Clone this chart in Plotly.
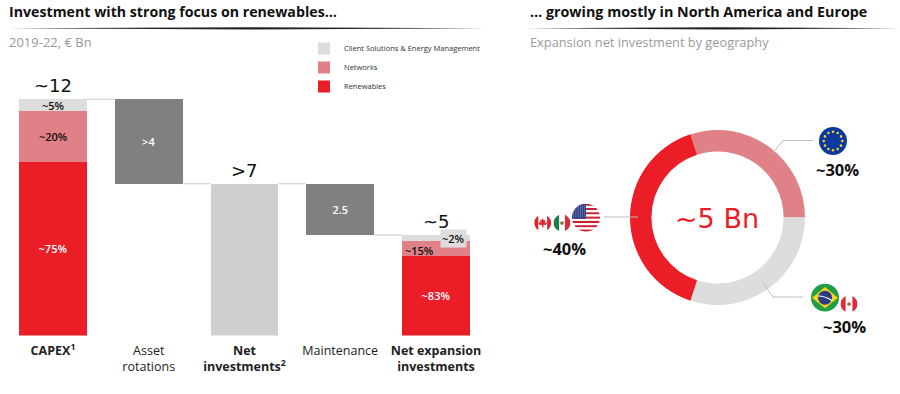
import base64
import math
import plotly.graph_objects as go

W, H = 900, 394

# ---- data ----
categories = [0, 1, 2, 3, 4]
category_labels = ["<b>CAPEX<sup>1</sup></b>", "Asset<br>rotations", "<b>Net<br>investments<sup>2</sup></b>",
                   "Maintenance", "<b>Net expansion<br>investments</b>"]
spacer = [0, 7.7, 0, 5.1, 0]
renewables = [8.8, None, None, None, 4.05]
networks = [2.6, None, None, None, 0.75]
client = [0.6, None, None, None, 0.3]
asset_rotations = [None, 4.3, None, None, None]
net_investments = [None, None, 7.7, None, None]
maintenance = [None, None, None, 2.6, None]

renewables_text = ["~75%", None, None, None, "~83%"]
networks_text = ["~20%", None, None, None, None]
client_text = ["~5%", None, None, None, None]
asset_text = [None, ">4", None, None, None]
maintenance_text = [None, None, None, "2.5", None]

totals = [("~12", 0, 12.0), (">7", 2, 7.7), ("~5", 4, 5.1)]
connector_levels = [12.0, 7.7, 7.7, 5.1]

geo_labels = ["Europe", "Brazil and Peru", "North America"]
geo_values = [30, 30, 40]

# ---- style ----
RED, PINK, LIGHT, DARK, MID = "#EB1D27", "#E08187", "#DDDDDD", "#808080", "#CFCFCF"
FONT = "Open Sans"
BIGFONT = "DejaVu Sans"
BAR_W = 0.71

fx = lambda px: px / W
fy = lambda py: 1 - py / H

fig = go.Figure()


def bar(name, y, color, text=None, tcolor="#111", rank=None):
    keep = [i for i, v in enumerate(y) if v is not None]
    labels = [text[i] or "" for i in keep] if text else None
    fig.add_trace(go.Bar(
        x=[categories[i] for i in keep], y=[y[i] for i in keep], name=name, width=BAR_W,
        marker=dict(color=color, line=dict(width=0)),
        text=[t for t in labels] if labels and all(labels) else None,
        textposition="inside" if labels and all(labels) else "none",
        insidetextanchor="middle", textangle=0, constraintext="none", cliponaxis=False,
        textfont=dict(family=FONT, size=11, color=tcolor, weight=600),
        showlegend=rank is not None, legendrank=rank if rank else 1000, legendgroup=name,
    ))


fig.add_trace(go.Bar(x=categories, y=spacer, width=BAR_W, marker=dict(color="rgba(0,0,0,0)", line=dict(width=0)),
                     showlegend=False, hoverinfo="skip"))
bar("Renewables", renewables, RED, renewables_text, "white", 3)
bar("Networks", networks, PINK, None, "#111", 2)
bar("Client Solutions & Energy Management", client, LIGHT, None, "#111", 1)
bar("Asset rotations", asset_rotations, DARK, asset_text, "white")
bar("Net investments", net_investments, MID)
bar("Maintenance", maintenance, DARK, maintenance_text, "white")

for i, lv in enumerate(connector_levels):
    fig.add_trace(go.Scatter(x=[categories[i] + BAR_W / 2, categories[i + 1] - BAR_W / 2], y=[lv, lv],
                             mode="lines", line=dict(color="#C8C8C8", width=1),
                             showlegend=False, hoverinfo="skip"))

fig.add_trace(go.Pie(
    labels=geo_labels, values=geo_values, sort=False, direction="clockwise", rotation=-18,
    hole=0.755, marker=dict(colors=[PINK, LIGHT, RED], line=dict(width=0)),
    textinfo="none", showlegend=False,
    domain=dict(x=[fx(630), fx(805)], y=[fy(305), fy(130)]),
))

ann = []


def txt(px, py, s, size, color="#111", family=FONT, weight=None, xanchor="center", **kw):
    ann.append(dict(x=fx(px), y=fy(py), xref="paper", yref="paper", text=s, showarrow=False,
                    xanchor=xanchor, yanchor="middle",
                    font=dict(family=family, size=size, color=color, weight=weight), **kw))


txt(7, 12, "Investment with strong focus on renewables…", 14.2, "#111", weight=700, xanchor="left")
txt(528, 12, "… growing mostly in North America and Europe", 14.3, "#111", weight=700, xanchor="left")
txt(7, 42, "2019-22, € Bn", 13, "#9A9A9A", xanchor="left")
txt(528, 42, "Expansion net investment by geography", 12.8, "#9A9A9A", xanchor="left")

for s, c, v in totals:
    ann.append(dict(x=c, y=v, xref="x", yref="y", text=s, showarrow=False, yanchor="bottom", yshift=1,
                    font=dict(family=BIGFONT, size=18, color="#111")))

# segment labels kept in the same lists as the values they describe
label_font = dict(family=FONT, size=11, color="#111", weight=600)
ann.append(dict(x=0, y=renewables[0] + networks[0] / 2, xref="x", yref="y", text=networks_text[0],
                showarrow=False, font=label_font))
ann.append(dict(x=0, y=renewables[0] + networks[0] + client[0] / 2, xref="x", yref="y", text=client_text[0],
                showarrow=False, font=label_font))
ann.append(dict(x=3.83, y=4.34, xref="x", yref="y", text="~15%", showarrow=False, font=label_font))
ann.append(dict(x=4.18, y=4.9, xref="x", yref="y", text="~2%", showarrow=False, bgcolor=LIGHT,
                borderpad=1, font=label_font))

txt(717, 218, "~5 Bn", 27, RED, BIGFONT)
txt(837, 169, "~30%", 16.5, weight=700)
txt(564, 248, "~40%", 16.5, weight=700)
txt(844, 326, "~30%", 16.5, weight=700)

shapes = [
    dict(type="path", xref="paper", yref="paper", line=dict(width=0), fillcolor="#222",
         path=f"M {fx(7)} {fy(28.3)} L {fx(250)} {fy(27.3)} L {fx(487)} {fy(28.3)} L {fx(250)} {fy(29.6)} Z"),
    dict(type="path", xref="paper", yref="paper", line=dict(width=0), fillcolor="#222",
         path=f"M {fx(527)} {fy(28.3)} L {fx(720)} {fy(27.3)} L {fx(900)} {fy(28.3)} L {fx(720)} {fy(29.6)} Z"),
]
for pts in ([(772, 154), (783, 140.5), (813, 140.5)], [(604, 217), (638, 217)],
            [(763, 283), (773, 297), (803, 297)]):
    p = "M " + " L ".join(f"{fx(a)} {fy(b)}" for a, b in pts)
    shapes.append(dict(type="path", xref="paper", yref="paper", path=p, line=dict(color="#BDBDBD", width=1)))


# ---- flags (decoration) ----
def svg(body):
    s = ('<svg xmlns="http://www.w3.org/2000/svg" viewBox="0 0 100 100" width="100" height="100">'
         '<defs><clipPath id="c"><circle cx="50" cy="50" r="50"/></clipPath></defs>'
         f'<g clip-path="url(#c)">{body}</g></svg>')
    return "data:image/svg+xml;base64," + base64.b64encode(s.encode()).decode()


stars = "".join(f'<circle cx="{50 + 33 * math.sin(i * math.pi / 6):.1f}" cy="{50 - 33 * math.cos(i * math.pi / 6):.1f}" r="4.5" fill="#FFD21E"/>'
                for i in range(12))
eu = f'<rect width="100" height="100" fill="#0B3A9E"/>{stars}'
stripes = "".join(f'<rect y="{i * 100 / 13:.2f}" width="100" height="{100 / 13:.2f}" fill="{"#C8202F" if i % 2 == 0 else "#FFFFFF"}"/>'
                  for i in range(13))
dots = "".join(f'<circle cx="{6 + 8 * a}" cy="{5 + 7 * b}" r="1.6" fill="#fff"/>' for a in range(6) for b in range(7))
usa = f'{stripes}<rect width="50" height="54" fill="#2B3F87"/>{dots}'
ca = ('<rect width="100" height="100" fill="#fff"/><rect x="0" width="24" height="100" fill="#E1242B"/>'
      '<rect x="76" width="24" height="100" fill="#E1242B"/>'
      '<path d="M50 22 L57 36 L66 31 L62 50 L72 44 L74 52 L68 62 L54 60 L55 75 L45 75 L46 60 L32 62 L26 52 L28 44 L38 50 L34 31 L43 36 Z" fill="#E1242B"/>')
mx = ('<rect width="100" height="100" fill="#fff"/><rect width="33" height="100" fill="#1F7A4D"/>'
      '<rect x="67" width="33" height="100" fill="#D32F3C"/><circle cx="50" cy="50" r="11" fill="#8A6A3B"/>')
br = ('<rect width="100" height="100" fill="#1F9E46"/><path d="M50 12 L96 50 L50 88 L4 50 Z" fill="#F7D417"/>'
      '<circle cx="50" cy="50" r="25" fill="#2B3A86"/><path d="M26 44 Q50 44 74 60" stroke="#fff" stroke-width="4" fill="none"/>')
pe = ('<rect width="100" height="100" fill="#fff"/><rect width="30" height="100" fill="#DE2A33"/>'
      '<rect x="70" width="30" height="100" fill="#DE2A33"/><circle cx="50" cy="50" r="11" fill="#9C6B45"/>')

images = []
for body, cx, cy, r in ((eu, 833, 141, 14), (usa, 586, 217.7, 14), (ca, 542.7, 223, 8.5), (mx, 562, 223, 8.5),
                        (br, 825, 297.7, 14), (pe, 849, 304, 8.5)):
    images.append(dict(source=svg(body), xref="paper", yref="paper", x=fx(cx - r), y=fy(cy - r),
                       sizex=2 * r / W, sizey=2 * r / H, xanchor="left", yanchor="top", sizing="stretch", layer="above"))

PX_PER_CAT = 95.75
PX_PER_UNIT = 19.7
X0, AX_R = 53, 504
AX_BOTTOM, AX_TOP = 335.5, 60

fig.update_layout(
    width=W, height=H, autosize=False, margin=dict(l=0, r=0, t=0, b=0),
    paper_bgcolor="white", plot_bgcolor="white", barmode="stack", bargap=0.29,
    font=dict(family=FONT, color="#222"),
    xaxis=dict(domain=[0, fx(AX_R)], range=[-X0 / PX_PER_CAT, (AX_R - X0) / PX_PER_CAT], tickmode="array",
               tickvals=categories, ticktext=category_labels, tickfont=dict(family=FONT, size=12.5, color="#222"),
               showgrid=False, zeroline=False, showline=False, ticks="", ticklen=0, ticklabelstandoff=6),
    yaxis=dict(domain=[fy(AX_BOTTOM), fy(AX_TOP)], range=[0, (AX_BOTTOM - AX_TOP) / PX_PER_UNIT], visible=False),
    legend=dict(x=fx(304), y=fy(34), xanchor="left", yanchor="top", traceorder="grouped",
                tracegroupgap=0, font=dict(family=FONT, size=7.5, color="#333"), bgcolor="rgba(0,0,0,0)",
                itemclick=False, itemdoubleclick=False),
    annotations=ann, shapes=shapes, images=images,
)

fig.write_html("out.html", config=dict(displayModeBar=False),
               post_script="document.body.style.margin='0';document.body.style.overflow='hidden';")
